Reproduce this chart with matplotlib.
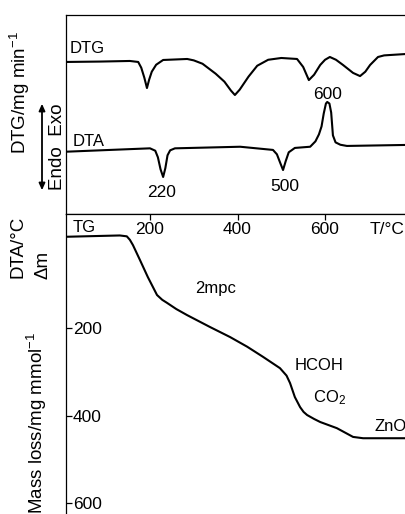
import matplotlib
matplotlib.use("Agg")
import matplotlib.pyplot as plt
from matplotlib.patches import FancyArrowPatch

plt.rcParams['font.family'] = ['Liberation Sans', 'DejaVu Sans']
plt.rcParams['mathtext.default'] = 'regular'
plt.rcParams['font.size'] = 12

# DTG trace (temperature in C, signal in arbitrary units)
dtg_t = [8, 86, 154, 173, 180, 187, 193, 198, 204, 214, 230, 285, 300, 320,
         350, 370, 385, 394, 405, 425, 445, 470, 500, 536, 550, 563, 575,
         589, 600, 611, 625, 641, 664, 680, 692, 703, 721, 735, 749, 785]
dtg_v = [76.4, 76.6, 76.9, 76.4, 73.5, 68.5, 63.3, 67.5, 71.5, 75.0, 77.4,
         77.9, 77.2, 75.5, 70.5, 66.5, 62.0, 59.8, 62.5, 69.0, 74.5, 77.5,
         78.4, 77.9, 73.9, 67.3, 70.0, 74.9, 77.5, 78.9, 77.5, 74.9, 70.9,
         69.3, 71.5, 74.9, 78.9, 79.7, 79.9, 80.4]

# DTA trace
dta_t = [8, 109, 200, 212, 218, 224, 230, 235, 240, 246, 257, 406, 481, 490,
         497, 504, 510, 517, 531, 566, 578, 586, 592, 597, 602, 605, 610,
         614, 618, 624, 635, 650, 785]
dta_v = [31.3, 32.2, 33.0, 31.8, 28.5, 22.5, 18.6, 23.0, 29.5, 32.0, 33.0,
         33.8, 32.2, 30.0, 26.0, 22.1, 26.5, 31.0, 33.2, 33.8, 36.5, 40.0,
         44.0, 50.5, 55.5, 56.3, 55.5, 51.0, 39.5, 36.0, 34.8, 34.2, 34.7]

# TG trace (mass loss, mg/mmol)
tg_t = [8, 131, 147, 154, 161, 177, 195, 216, 228, 239, 260, 285, 337, 383,
        422, 458, 497, 512, 520, 531, 543, 551, 559, 575, 589, 627, 664,
        687, 785]
tg_v = [-9, -12, -10, -2, 10, 44, 83, 124, 135, 142, 156, 170, 197, 220,
        242, 265, 291, 308, 325, 357, 380, 391, 398, 407, 414, 428, 448,
        451, 451]

x_ticks = [200, 400, 600]
y_ticks = [200, 400, 600]

W, H = 406, 514
fig = plt.figure(figsize=(W / 100, H / 100), dpi=100)

ax1 = fig.add_axes([66 / W, (H - 214) / H, 1 - 66 / W, 199 / H])
ax2 = fig.add_axes([66 / W, 0, 1 - 66 / W, (H - 214) / H])

for ax in (ax1, ax2):
    ax.set_xlim(8, 785)
    for s in ax.spines.values():
        s.set_linewidth(0.9)
    ax.spines['right'].set_visible(False)

# upper panel: DTG and DTA
ax1.plot(dtg_t, dtg_v, color='k', lw=1.5)
ax1.plot(dta_t, dta_v, color='k', lw=1.5)
ax1.set_ylim(0, 100)
ax1.set_xticks([])
ax1.set_yticks([])
ax1.text(17, 83.4, 'DTG', ha='left', va='center')
ax1.text(22, 36.2, 'DTA', ha='left', va='center')
ax1.text(227, 10.6, '220', ha='center', va='center', fontsize=12.5)
ax1.text(509, 13.6, '500', ha='center', va='center', fontsize=12.5)
ax1.text(605, 59.8, '600', ha='center', va='center', fontsize=12.5)

# lower panel: TG
ax2.plot(tg_t, tg_v, color='k', lw=1.5)
ax2.set_ylim(624, -61)
ax2.spines['bottom'].set_visible(False)
ax2.xaxis.set_ticks_position('top')
ax2.set_xticks(x_ticks)
ax2.tick_params(axis='x', direction='in', length=4, width=0.9, pad=-6,
                labelsize=12.5)
plt.setp(ax2.get_xticklabels(), va='top')
ax2.set_yticks(y_ticks)
ax2.tick_params(axis='y', direction='in', length=4, width=0.9, pad=-5,
                labelsize=12.5)
plt.setp(ax2.get_yticklabels(), ha='left')
ax2.text(22, -31, 'TG', ha='left', va='center')
ax2.text(703, -25, 'T/°C', ha='left', va='center', fontsize=12.5)
ax2.text(349, 110, '2mpc', ha='center', va='center')
ax2.text(586, 284, 'HCOH', ha='center', va='center')
ax2.text(611, 359, 'CO$_2$', ha='center', va='center')
ax2.text(714, 425, 'ZnO', ha='left', va='center')

# axis labels on the left
def fx(px):
    return px / W

def fy(py):
    return (H - py) / H

lab = 13.5
fig.text(fx(20), fy(93), 'DTG/mg min$^{-1}$', rotation=90, ha='center', va='center', fontsize=lab)
fig.text(fx(58), fy(147), 'Endo  Exo', rotation=90, ha='center', va='center', fontsize=lab)
fig.text(fx(18), fy(247), 'DTA/°C', rotation=90, ha='center', va='center', fontsize=lab)
fig.text(fx(43), fy(265), 'Δm', rotation=90, ha='center', va='center', fontsize=lab)
fig.text(fx(37), fy(423), 'Mass loss/mg mmol$^{-1}$', rotation=90, ha='center', va='center', fontsize=lab)

arrow = FancyArrowPatch((fx(42), fy(193)), (fx(42), fy(101)), transform=fig.transFigure,
                        arrowstyle='<|-|>,head_length=4,head_width=1.8', lw=1.3, color='k')
fig.add_artist(arrow)

fig.savefig('out.png', dpi=100)
